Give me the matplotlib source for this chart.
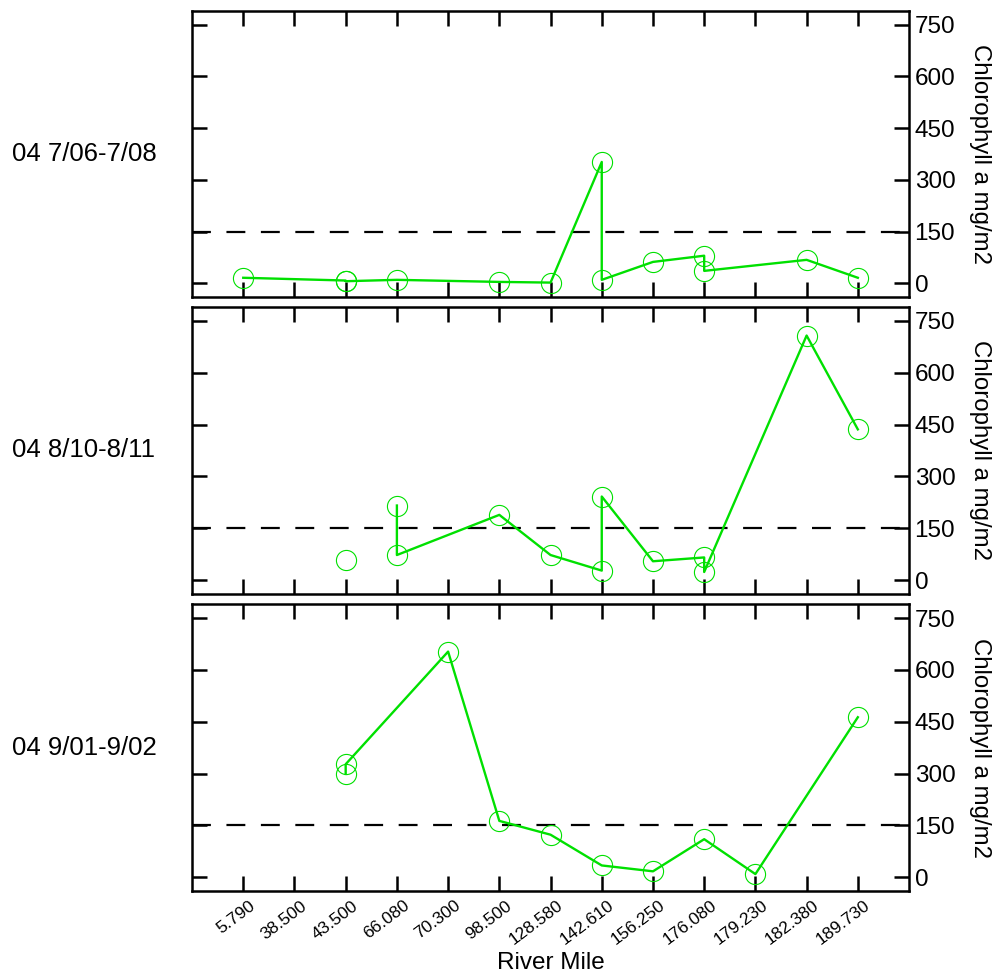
import numpy as np
import matplotlib.pyplot as plt
from matplotlib.transforms import ScaledTranslation

plt.rcParams['font.family'] = ['Liberation Sans', 'DejaVu Sans']

river_miles = ['5.790', '38.500', '43.500', '66.080', '70.300', '98.500', '128.580',
               '142.610', '156.250', '176.080', '179.230', '182.380', '189.730']
dates = ['04 7/06-7/08', '04 8/10-8/11', '04 9/01-9/02']

# samples in the order the line joins them (nan breaks the line)
sites_jul = ['5.790', '43.500', '43.500', '66.080', '98.500', '128.580', '142.610', '142.610',
             '156.250', '176.080', '176.080', '182.380', '189.730']
chl_jul = [16, 8, 6, 10, 4, 2, 352, 10, 62, 80, 36, 68, 16]

sites_aug = ['43.500', '43.500', '66.080', '66.080', '98.500', '128.580', '142.610', '142.610',
             '156.250', '176.080', '176.080', '182.380', '189.730']
chl_aug = [58, np.nan, 216, 73, 189, 73, 28, 242, 55, 66, 24, 707, 436]

sites_sep = ['43.500', '43.500', '70.300', '98.500', '128.580', '142.610', '156.250',
             '176.080', '179.230', '189.730']
chl_sep = [299, 327, 653, 163, 123, 34, 17, 110, 9, 463]

threshold = 150
yticks = [0, 150, 300, 450, 600, 750]

panels = [(sites_jul, chl_jul), (sites_aug, chl_aug), (sites_sep, chl_sep)]
boxes = [(0.695, 0.9887), (0.390, 0.685), (0.0852, 0.3796)]
green = '#00e000'

fig = plt.figure(figsize=(9.96, 9.74), dpi=100)
left, right = 0.1928, 0.9127

for i, ((sites, vals), (b, t)) in enumerate(zip(panels, boxes)):
    ax = fig.add_axes([left, b, right - left, t - b])
    x = [river_miles.index(s) for s in sites]
    ax.plot(x, vals, color=green, lw=1.7, marker='o', ms=14.5, mfc='none',
            mec=green, mew=0.8, zorder=3)
    ax.axhline(threshold, color='black', lw=1.6, dashes=(8.5, 7), zorder=2)
    ax.set_xlim(-1, 13)
    ax.set_ylim(-40, 790)
    ax.set_xticks(range(len(river_miles)))
    ax.set_yticks(yticks)
    for s in ax.spines.values():
        s.set_linewidth(1.8)
    ax.tick_params(direction='in', length=11, width=1.8, top=True, right=True,
                   labelleft=False, labelright=True, labelsize=17.5, pad=4)
    if i < 2:
        ax.set_xticklabels([])
    else:
        ax.set_xticklabels(river_miles, rotation=37, ha='right', rotation_mode='anchor',
                           fontsize=12.5)
        ax.tick_params(axis='x', pad=5)
        off = ScaledTranslation(6 / 100, 0, fig.dpi_scale_trans)
        for lab in ax.get_xticklabels():
            lab.set_transform(lab.get_transform() + off)
    mid = (b + t) / 2
    fig.text(0.012, mid, dates[i], fontsize=18.5, ha='left', va='center')
    fig.text(0.984, mid, 'Chlorophyll a mg/m2', fontsize=17.3, rotation=270,
             ha='center', va='center')

fig.text((left + right) / 2, 0.011, 'River Mile', fontsize=17.5, ha='center', va='center')

fig.savefig('out.png', dpi=100)
